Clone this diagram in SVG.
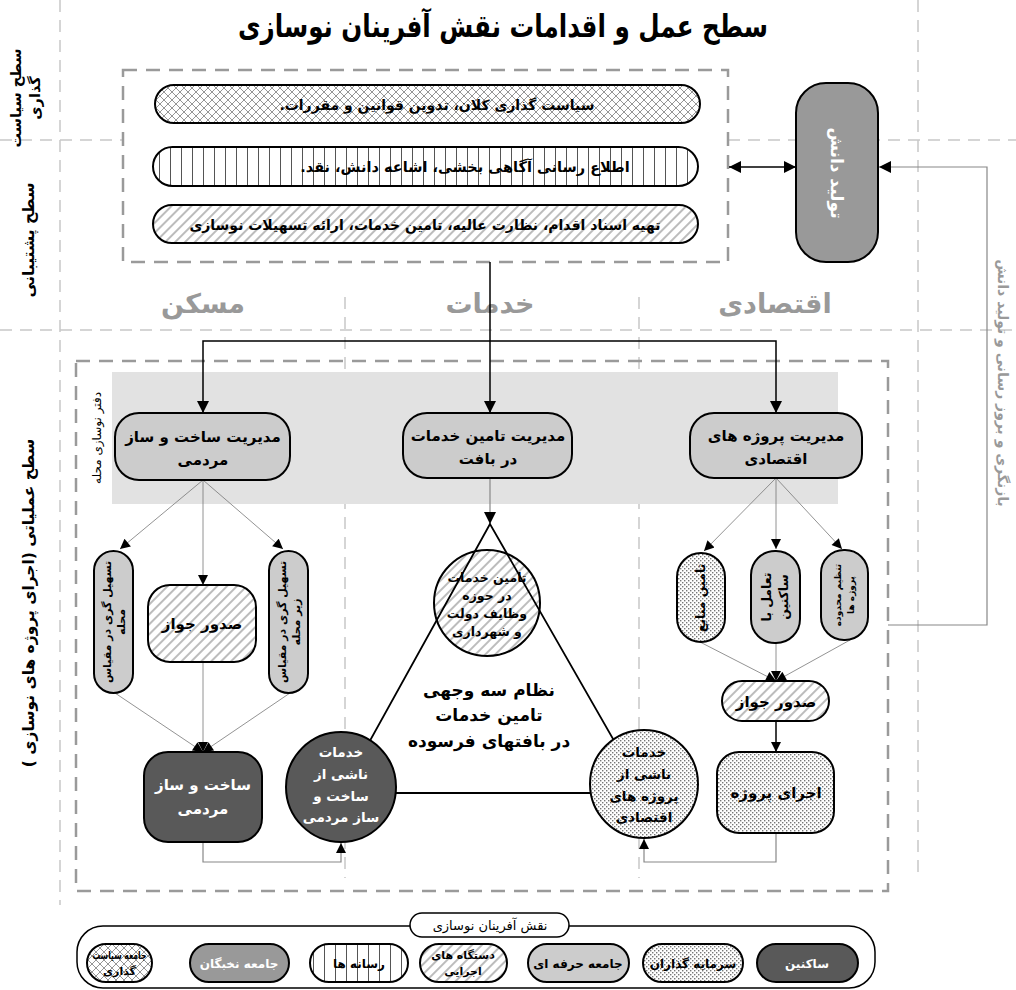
<svg xmlns="http://www.w3.org/2000/svg" width="1016" height="990" viewBox="0 0 1016 990">
<style>
.t{font-family:"DejaVu Sans",sans-serif;font-weight:bold;text-anchor:middle;fill:#000;direction:rtl}
.w{fill:#fff}
.g{fill:#999}
.r{font-family:"DejaVu Sans",sans-serif;font-weight:normal;text-anchor:middle;fill:#000;direction:rtl}
.grid{stroke:#c8c8c8;stroke-width:1.5;stroke-dasharray:12 8;fill:none}
.dbox{stroke:#9a9a9a;stroke-width:2.5;stroke-dasharray:14 9;fill:none}
.ol{stroke:#000;stroke-width:2}
.thin{stroke:#777;stroke-width:0.8;fill:none}
.blk{stroke:#000;stroke-width:1.5;fill:none}
.gry{stroke:#888;stroke-width:1.2;fill:none}
</style>
<defs>
<pattern id="cross" width="8" height="8" patternUnits="userSpaceOnUse">
<rect width="8" height="8" fill="#fff"/>
<path d="M0,0 L8,8 M8,0 L0,8" stroke="#8a8a8a" stroke-width="0.9"/>
</pattern>
<pattern id="vlines" width="11" height="10" patternUnits="userSpaceOnUse">
<rect width="11" height="10" fill="#fff"/>
<path d="M5.5,0 V10" stroke="#555" stroke-width="1"/>
</pattern>
<pattern id="hatch" width="7" height="7" patternUnits="userSpaceOnUse" patternTransform="rotate(45)">
<rect width="7" height="7" fill="#fff"/>
<line x1="1" y1="0" x2="1" y2="7" stroke="#999" stroke-width="1.3"/>
</pattern>
<pattern id="dots" width="4" height="4" patternUnits="userSpaceOnUse">
<rect width="4" height="4" fill="#fff"/>
<rect x="0" y="0" width="1.4" height="1.4" fill="#777"/>
<rect x="2" y="2" width="1.4" height="1.4" fill="#777"/>
</pattern>
<marker id="ah" viewBox="0 0 10 10" refX="10" refY="5" markerWidth="14" markerHeight="12" orient="auto-start-reverse" markerUnits="userSpaceOnUse">
<path d="M0,0 L10,5 L0,10 z" fill="#000"/>
</marker>
<marker id="as" viewBox="0 0 10 10" refX="10" refY="5" markerWidth="12" markerHeight="10" orient="auto" markerUnits="userSpaceOnUse">
<path d="M0,0 L10,5 L0,10 z" fill="#000"/>
</marker>
</defs>
<rect width="1016" height="990" fill="#fff"/>

<g id="grid">
<path class="grid" d="M60,0 V905 M918,0 V878 M345,297 V878 M639,297 V878 M0,140 H123 M728,140 H1016 M0,330 H1016"/>
</g>

<text class="t" x="503" y="37" font-size="31" textLength="530" lengthAdjust="spacingAndGlyphs">سطح  عمل و اقدامات نقش آفرینان نوسازی</text>

<g id="levels">
<text class="t" font-size="14.5" transform="translate(21,98) rotate(-90)">سطح سیاست</text>
<text class="t" font-size="14.5" transform="translate(40,98) rotate(-90)">گذاری</text>
<text class="t" font-size="15.5" transform="translate(34,240) rotate(-90)">سطح پشتیبانی</text>
<text class="t" font-size="15.5" transform="translate(34,603) rotate(-90)">سطح عملیاتی (اجرای پروژه های نوسازی )</text>
</g>

<g id="support-box">
<rect x="123" y="70" width="605" height="192" class="dbox" fill="#fff"/>
</g>
<g id="policy-pill">
<rect x="155" y="85" width="545" height="38" rx="19" fill="url(#cross)" class="ol"/>
<text class="t" x="437" y="110" font-size="14">سیاست گذاری کلان، تدوین قوانین و مقررات.</text>
</g>
<g id="media-pill">
<rect x="153" y="147" width="545" height="39" rx="19.5" fill="url(#vlines)" class="ol"/>
<text class="t" x="465" y="172" font-size="14.5">اطلاع رسانی آگاهی بخشی، اشاعه دانش، نقد.</text>
</g>
<g id="exec-pill">
<rect x="153" y="205" width="545" height="38" rx="19" fill="url(#hatch)" class="ol"/>
<text class="t" x="425" y="230" font-size="14">تهیه اسناد اقدام، نظارت عالیه، تامین خدمات، ارائه تسهیلات نوسازی</text>
</g>

<g id="knowledge">
<rect x="796" y="83" width="82" height="179" rx="30" fill="#999" class="ol"/>
<text class="t w" font-size="17" transform="translate(831,173) rotate(90)">تولید دانش</text>
</g>

<text class="t g" font-size="14" transform="translate(998,383) rotate(90)">بازنگری و بروز رسانی و تولید دانش</text>

<g id="sections">
<text class="t g" x="203" y="313" font-size="27">مسکن</text>
<text class="t g" x="490" y="313" font-size="27">خدمات</text>
<text class="t g" x="775" y="313" font-size="27">اقتصادی</text>
</g>

<g id="ops-box">
<rect x="112" y="372" width="726" height="132" fill="#e2e2e2"/>
<rect x="76" y="361" width="812" height="530" class="dbox"/>
<text class="r" font-size="12" transform="translate(101,438) rotate(-90)">دفتر نوسازی محله</text>
</g>

<g id="connectors">
<path class="blk" d="M490,262 V413" marker-end="url(#ah)"/>
<path class="blk" d="M490,341 H203 V413" marker-end="url(#ah)"/>
<path class="blk" d="M490,341 H776 V413" marker-end="url(#ah)"/>
<path class="blk" d="M729,167 H796" marker-start="url(#ah)" marker-end="url(#ah)"/>
<path class="gry" d="M888,625 H987 V167 H879" marker-end="url(#ah)"/>
<path class="thin" d="M203,480 L120,549" marker-end="url(#as)"/>
<path class="thin" d="M203,480 V585" marker-end="url(#as)"/>
<path class="thin" d="M203,480 L283,549" marker-end="url(#as)"/>
<path class="thin" d="M115,693 L203,752" marker-end="url(#as)"/>
<path class="thin" d="M203,662 V752" marker-end="url(#as)"/>
<path class="thin" d="M290,693 L203,752" marker-end="url(#as)"/>
<path class="gry" d="M490,478 V524" marker-end="url(#ah)"/>
<path class="thin" d="M776,478 L704,551" marker-end="url(#as)"/>
<path class="thin" d="M776,478 V549" marker-end="url(#as)"/>
<path class="thin" d="M776,478 L842,549" marker-end="url(#as)"/>
<path class="thin" d="M700,642 L776,681" marker-end="url(#as)"/>
<path class="thin" d="M776,643 V681" marker-end="url(#as)"/>
<path class="thin" d="M850,640 L776,681" marker-end="url(#as)"/>
<path class="blk" d="M776,721 V752" marker-end="url(#as)"/>
<path class="gry" d="M203,842 V862 H341 V843" marker-end="url(#as)"/>
<path class="gry" d="M776,833 V862 H644 V839" marker-end="url(#as)"/>
</g>

<g id="mgmt-housing">
<rect x="115" y="413" width="175" height="67" rx="24" fill="#ccc" class="ol"/>
<text class="t" x="203" y="442" font-size="15">مدیریت ساخت و ساز</text>
<text class="t" x="203" y="465" font-size="15">مردمی</text>
</g>
<g id="mgmt-services">
<rect x="403" y="413" width="169" height="65" rx="24" fill="#ccc" class="ol"/>
<text class="t" x="488" y="441" font-size="15">مدیریت تامین خدمات</text>
<text class="t" x="488" y="464" font-size="15">در بافت</text>
</g>
<g id="mgmt-economic">
<rect x="690" y="413" width="172" height="65" rx="24" fill="#ccc" class="ol"/>
<text class="t" x="776" y="441" font-size="15">مدیریت پروژه های</text>
<text class="t" x="776" y="464" font-size="15">اقتصادی</text>
</g>

<g id="facil-neigh">
<rect x="94" y="551" width="39" height="142" rx="19.5" fill="#ccc" class="ol"/>
<text class="t" font-size="11" transform="translate(111,622) rotate(-90)">تسهیل گری در مقیاس</text>
<text class="t" font-size="11" transform="translate(125,622) rotate(-90)">محله</text>
</g>
<g id="permit-housing">
<rect x="148" y="585" width="108" height="77" rx="22" fill="url(#hatch)" class="ol"/>
<text class="t" x="202" y="629" font-size="15">صدور جواز</text>
</g>
<g id="facil-sub">
<rect x="269" y="551" width="39" height="142" rx="19.5" fill="#ccc" class="ol"/>
<text class="t" font-size="11" transform="translate(286,622) rotate(-90)">تسهیل گری در مقیاس</text>
<text class="t" font-size="11" transform="translate(300,622) rotate(-90)">زیر محله</text>
</g>
<g id="housing-build">
<rect x="144" y="752" width="118" height="90" rx="24" fill="#595959" class="ol"/>
<text class="t w" x="203" y="790" font-size="15">ساخت و ساز</text>
<text class="t w" x="203" y="814" font-size="15">مردمی</text>
</g>

<g id="triangle">
<circle cx="487" cy="603" r="53" fill="url(#hatch)" class="ol"/>
<path d="M490,524 L341,793 H644 Z" stroke="#000" stroke-width="1.8" fill="none"/>
<text class="t" x="487" y="582" font-size="12.5">تامین خدمات</text>
<text class="t" x="487" y="600" font-size="12.5">در حوزه</text>
<text class="t" x="487" y="618" font-size="12.5">وظایف دولت</text>
<text class="t" x="487" y="636" font-size="12.5">و شهرداری</text>
<text class="t" x="489" y="696" font-size="17">نظام سه وجهی</text>
<text class="t" x="489" y="721" font-size="17">تامین خدمات</text>
<text class="t" x="489" y="747" font-size="17">در بافتهای فرسوده</text>
</g>
<g id="svc-housing">
<circle cx="341" cy="787" r="55" fill="#595959" class="ol"/>
<text class="t w" x="341" y="757" font-size="13.5">خدمات</text>
<text class="t w" x="341" y="779" font-size="13.5">ناشی از</text>
<text class="t w" x="341" y="801" font-size="13.5">ساخت و</text>
<text class="t w" x="341" y="822" font-size="13.5">ساز مردمی</text>
</g>
<g id="svc-economic">
<circle cx="644" cy="784" r="54" fill="url(#dots)" class="ol"/>
<text class="t" x="644" y="757" font-size="13.5">خدمات</text>
<text class="t" x="644" y="779" font-size="13.5">ناشی از</text>
<text class="t" x="644" y="801" font-size="13.5">پروژه های</text>
<text class="t" x="644" y="822" font-size="13.5">اقتصادی</text>
</g>

<g id="funding">
<rect x="677" y="553" width="48" height="89" rx="24" fill="url(#dots)" class="ol"/>
<text class="t" font-size="12.5" transform="translate(705,598) rotate(-90)">تامین منابع</text>
</g>
<g id="residents-interact">
<rect x="751" y="551" width="49" height="92" rx="24" fill="#ccc" class="ol"/>
<text class="t" font-size="12.5" transform="translate(771,597) rotate(-90)">تعامل با</text>
<text class="t" font-size="12.5" transform="translate(788,597) rotate(-90)">ساکنین</text>
</g>
<g id="scope">
<rect x="821" y="550" width="47" height="90" rx="23" fill="#ccc" class="ol"/>
<text class="t" font-size="9" transform="translate(841,595) rotate(-90)">تنظیم محدوده</text>
<text class="t" font-size="9" transform="translate(854,595) rotate(-90)">پروژه ها</text>
</g>
<g id="permit-economic">
<rect x="722" y="681" width="107" height="40" rx="20" fill="url(#hatch)" class="ol"/>
<text class="t" x="776" y="707" font-size="15">صدور جواز</text>
</g>
<g id="project-exec">
<rect x="717" y="752" width="117" height="81" rx="22" fill="url(#dots)" class="ol"/>
<text class="t" x="776" y="798" font-size="15">اجرای پروژه</text>
</g>

<g id="legend">
<rect x="77" y="926" width="798" height="62" rx="26" fill="#fff" stroke="#000" stroke-width="1.5"/>
<rect x="410" y="913" width="159" height="24" rx="12" fill="#fff" stroke="#000" stroke-width="1.5"/>
<text class="r" x="490" y="930" font-size="13">نقش آفرینان نوسازی</text>
<g id="lg-policy">
<rect x="87" y="944" width="65" height="38" rx="19" fill="url(#cross)" class="ol"/>
<text class="t" x="119.5" y="959" font-size="11" textLength="54" lengthAdjust="spacingAndGlyphs">جامعه سیاست</text>
<text class="t" x="119.5" y="975" font-size="11">گذاری</text>
</g>
<g id="lg-elite">
<rect x="190" y="944" width="99" height="38" rx="19" fill="#999" class="ol"/>
<text class="t w" x="239" y="968" font-size="12">جامعه نخبگان</text>
</g>
<g id="lg-media">
<rect x="310" y="944" width="98" height="38" rx="19" fill="url(#vlines)" class="ol"/>
<text class="t" x="359" y="968" font-size="12">رسانه ها</text>
</g>
<g id="lg-exec">
<rect x="420" y="944" width="87" height="38" rx="19" fill="url(#hatch)" class="ol"/>
<text class="t" x="463" y="959" font-size="11">دستگاه های</text>
<text class="t" x="463" y="975" font-size="11">اجرایی</text>
</g>
<g id="lg-prof">
<rect x="528" y="944" width="101" height="38" rx="19" fill="#ccc" class="ol"/>
<text class="t" x="578" y="968" font-size="12">جامعه حرفه ای</text>
</g>
<g id="lg-invest">
<rect x="643" y="944" width="100" height="38" rx="19" fill="url(#dots)" class="ol"/>
<text class="t" x="693" y="968" font-size="12">سرمایه گذاران</text>
</g>
<g id="lg-res">
<rect x="757" y="944" width="101" height="38" rx="19" fill="#595959" class="ol"/>
<text class="t w" x="807" y="968" font-size="12">ساکنین</text>
</g>
</g>
</svg>
